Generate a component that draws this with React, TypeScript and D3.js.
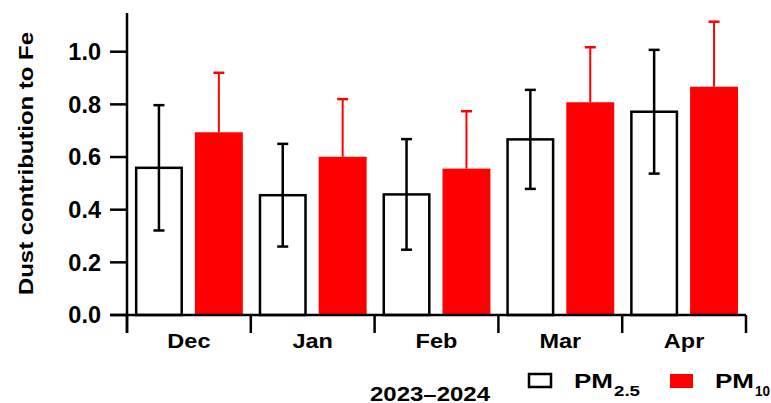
import * as d3 from "d3";

const months = ["Dec", "Jan", "Feb", "Mar", "Apr"];
const series = ["PM2.5", "PM10"];
const pm25 = [0.559, 0.455, 0.458, 0.667, 0.772];
const pm25Err = [0.238, 0.195, 0.21, 0.188, 0.235];
const pm10 = [0.694, 0.601, 0.556, 0.808, 0.867];
const pm10Err = [0.226, 0.219, 0.218, 0.209, 0.247];
const yTicks = [0, 0.2, 0.4, 0.6, 0.8, 1.0];

const W = 771;
const H = 403;
const font = "'Liberation Sans', Arial, sans-serif";

export default function App() {
  const x = d3.scaleBand().domain(months).range([127, 746]).padding(0);
  const inner = d3
    .scaleBand()
    .domain(series)
    .range([0, x.bandwidth()])
    .paddingInner(0.2)
    .paddingOuter(0.133);
  const y = d3.scaleLinear().domain([0, 1.147]).range([315, 13]);
  const bw = inner.bandwidth();
  const capW = 11;

  const rows = months.map((m, i) => ({ m, a: pm25[i], ae: pm25Err[i], b: pm10[i], be: pm10Err[i] }));
  const bounds = [...months.map((m) => x(m)!), 746];

  return (
    <svg width={W} height={H} style={{ position: "absolute", left: 0, top: 0 }} fontFamily={font}>
      <rect width={W} height={H} fill="#fff" />
      {/* y title */}
      <text
        transform="translate(32.5,163.5) rotate(-90)"
        textAnchor="middle"
        fontWeight="bold"
        fontSize={21}
        textLength={263}
        lengthAdjust="spacingAndGlyphs"
      >
        Dust contribution to Fe
      </text>

      {/* bars */}
      {rows.map((r) => {
        const x0 = x(r.m)!;
        const xa = x0 + inner("PM2.5")!;
        const xb = x0 + inner("PM10")!;
        const ca = xa + bw / 2;
        const cb = xb + bw / 2;
        return (
          <g key={r.m}>
            <rect x={xb} y={y(r.b)} width={bw} height={y(0) - y(r.b)} fill="#ff0000" />
            <line x1={cb} x2={cb} y1={y(r.b)} y2={y(r.b + r.be)} stroke="#ff0000" strokeWidth={2} />
            <line x1={cb - capW / 2} x2={cb + capW / 2} y1={y(r.b + r.be)} y2={y(r.b + r.be)} stroke="#ff0000" strokeWidth={2.5} />
            <rect x={xa + 1.2} y={y(r.a)} width={bw - 2.4} height={y(0) - y(r.a)} fill="#fff" stroke="#000" strokeWidth={2.5} />
            <line x1={ca} x2={ca} y1={y(r.a - r.ae)} y2={y(r.a + r.ae)} stroke="#000" strokeWidth={2.5} />
            <line x1={ca - capW / 2} x2={ca + capW / 2} y1={y(r.a + r.ae)} y2={y(r.a + r.ae)} stroke="#000" strokeWidth={2.5} />
            <line x1={ca - capW / 2} x2={ca + capW / 2} y1={y(r.a - r.ae)} y2={y(r.a - r.ae)} stroke="#000" strokeWidth={2.5} />
          </g>
        );
      })}

      {/* axes */}
      <line x1={127} x2={127} y1={13} y2={333} stroke="#000" strokeWidth={2.5} />
      <line x1={110} x2={746} y1={y(0)} y2={y(0)} stroke="#000" strokeWidth={2.5} />
      {bounds.map((b, i) => (
        <line key={i} x1={b} x2={b} y1={y(0)} y2={333} stroke="#000" strokeWidth={2.5} />
      ))}
      {yTicks.map((t) => (
        <g key={t}>
          <line x1={110} x2={127} y1={y(t)} y2={y(t)} stroke="#000" strokeWidth={2.5} />
          <text x={101} y={y(t)} dy="0.36em" textAnchor="end" fontWeight="bold" fontSize={23.5}>
            {t.toFixed(1)}
          </text>
        </g>
      ))}
      {months.map((m) => (
        <text
          key={m}
          transform={`translate(${x(m)! + x.bandwidth() / 2},348) scale(1.12,1)`}
          textAnchor="middle"
          fontWeight="bold"
          fontSize={21}
        >
          {m}
        </text>
      ))}
      <text
        x={370}
        y={400.5}
        fontWeight="bold"
        fontSize={21}
        textLength={120}
        lengthAdjust="spacingAndGlyphs"
      >
        2023–2024
      </text>

      {/* legend */}
      <rect x={529} y={374} width={22} height={13} fill="#fff" stroke="#000" strokeWidth={2.5} />
      <text x={574} y={388} fontWeight="bold" fontSize={21} textLength={39} lengthAdjust="spacingAndGlyphs">
        PM
      </text>
      <text x={614} y={396} fontWeight="bold" fontSize={15} textLength={26} lengthAdjust="spacingAndGlyphs">
        2.5
      </text>
      <rect x={670} y={374} width={23} height={14} fill="#ff0000" />
      <text x={715} y={388} fontWeight="bold" fontSize={21} textLength={39} lengthAdjust="spacingAndGlyphs">
        PM
      </text>
      <text x={755} y={396} fontWeight="bold" fontSize={15} textLength={15} lengthAdjust="spacingAndGlyphs">
        10
      </text>
    </svg>
  );
}
